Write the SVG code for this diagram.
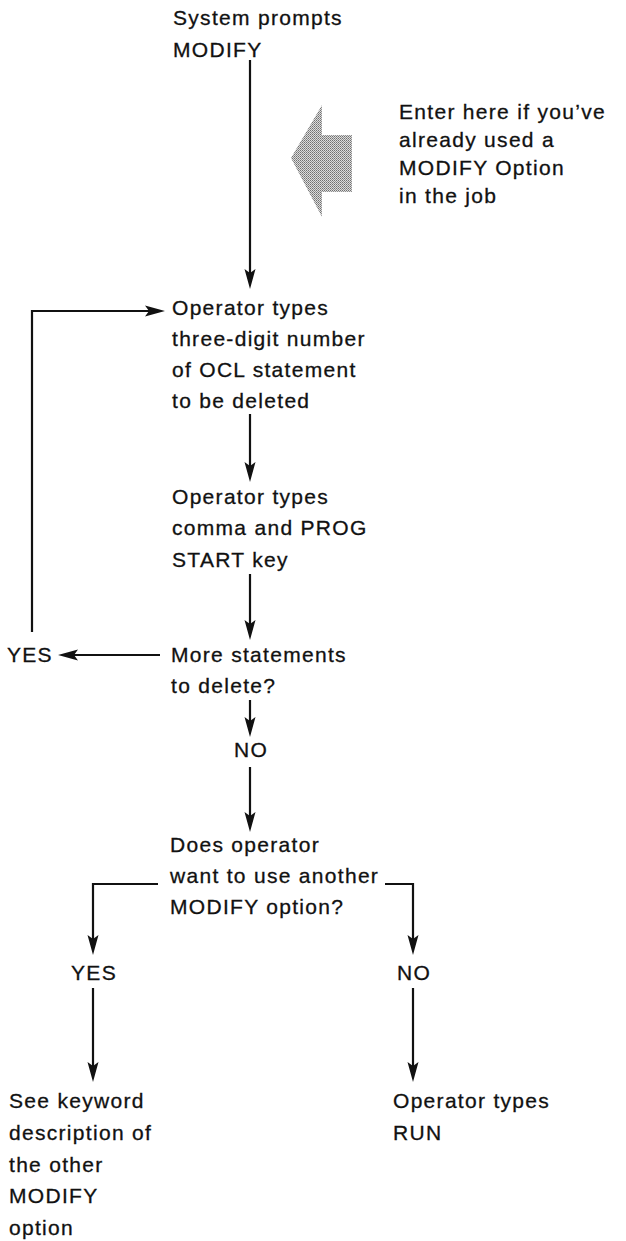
<svg xmlns="http://www.w3.org/2000/svg" width="626" height="1241" viewBox="0 0 626 1241">
  <style>
    text { font-family: "Liberation Sans", Arial, sans-serif; font-size: 21px; letter-spacing: 1.3px; fill: #111; stroke: #111; stroke-width: 0.3px; }
    .mid { text-anchor: middle; }
    .conn { fill: none; stroke: #111; stroke-width: 2.2; }
  </style>
  <defs>
    <marker id="head" viewBox="0 0 20 12" refX="12" refY="6" markerWidth="20" markerHeight="12" markerUnits="userSpaceOnUse" orient="auto">
      <path d="M0,0.5 L20,6 L0,11.5 L4,6 Z" fill="#111"/>
    </marker>
    <pattern id="stipple" width="2" height="2" patternUnits="userSpaceOnUse">
      <rect width="2" height="2" fill="#dcdcdc"/>
      <rect width="1" height="1" fill="#707070"/>
      <rect x="1" y="1" width="1" height="1" fill="#909090"/>
    </pattern>
  </defs>

  <!-- connectors -->
  <g id="connectors">
    <path class="conn" d="M250,60 V281" marker-end="url(#head)"/>
    <path class="conn" d="M250,414 V474" marker-end="url(#head)"/>
    <path class="conn" d="M250,574 V632" marker-end="url(#head)"/>
    <path class="conn" d="M160,655 H66" marker-end="url(#head)"/>
    <path class="conn" d="M32,632 V311 H157" marker-end="url(#head)"/>
    <path class="conn" d="M250,700 V729" marker-end="url(#head)"/>
    <path class="conn" d="M250,767 V824" marker-end="url(#head)"/>
    <path class="conn" d="M158,884 H93 V947" marker-end="url(#head)"/>
    <path class="conn" d="M385,884 H413 V947" marker-end="url(#head)"/>
    <path class="conn" d="M93,988 V1074" marker-end="url(#head)"/>
    <path class="conn" d="M413,988 V1074" marker-end="url(#head)"/>
  </g>

  <g id="start">
    <text x="173" y="25">System prompts</text>
    <text x="173" y="57">MODIFY</text>
  </g>

  <g id="entry-note">
    <polygon points="291,158 322,105 322,135 352,135 352,192 322,192 322,217" fill="url(#stipple)"/>
    <text x="399" y="119">Enter here if you’ve</text>
    <text x="399" y="147">already used a</text>
    <text x="399" y="175">MODIFY Option</text>
    <text x="399" y="203">in the job</text>
  </g>

  <g id="type-number">
    <text x="172" y="315">Operator types</text>
    <text x="172" y="346">three-digit number</text>
    <text x="172" y="377">of OCL statement</text>
    <text x="172" y="408">to be deleted</text>
  </g>

  <g id="type-comma">
    <text x="172" y="504">Operator types</text>
    <text x="172" y="535">comma and PROG</text>
    <text x="172" y="567">START key</text>
  </g>

  <g id="more-statements">
    <text x="171" y="662">More statements</text>
    <text x="171" y="693">to delete?</text>
  </g>

  <g id="label-yes-loop">
    <text x="7" y="662">YES</text>
  </g>

  <g id="label-no-continue">
    <text class="mid" x="251" y="757">NO</text>
  </g>

  <g id="another-option">
    <text x="170" y="852">Does operator</text>
    <text x="170" y="883">want to use another</text>
    <text x="170" y="914">MODIFY option?</text>
  </g>

  <g id="label-yes-other">
    <text class="mid" x="94" y="980">YES</text>
  </g>

  <g id="label-no-run">
    <text class="mid" x="414" y="980">NO</text>
  </g>

  <g id="see-keyword">
    <text x="9" y="1108">See keyword</text>
    <text x="9" y="1140">description of</text>
    <text x="9" y="1172">the other</text>
    <text x="9" y="1203">MODIFY</text>
    <text x="9" y="1235">option</text>
  </g>

  <g id="type-run">
    <text x="393" y="1108">Operator types</text>
    <text x="393" y="1140">RUN</text>
  </g>
</svg>
